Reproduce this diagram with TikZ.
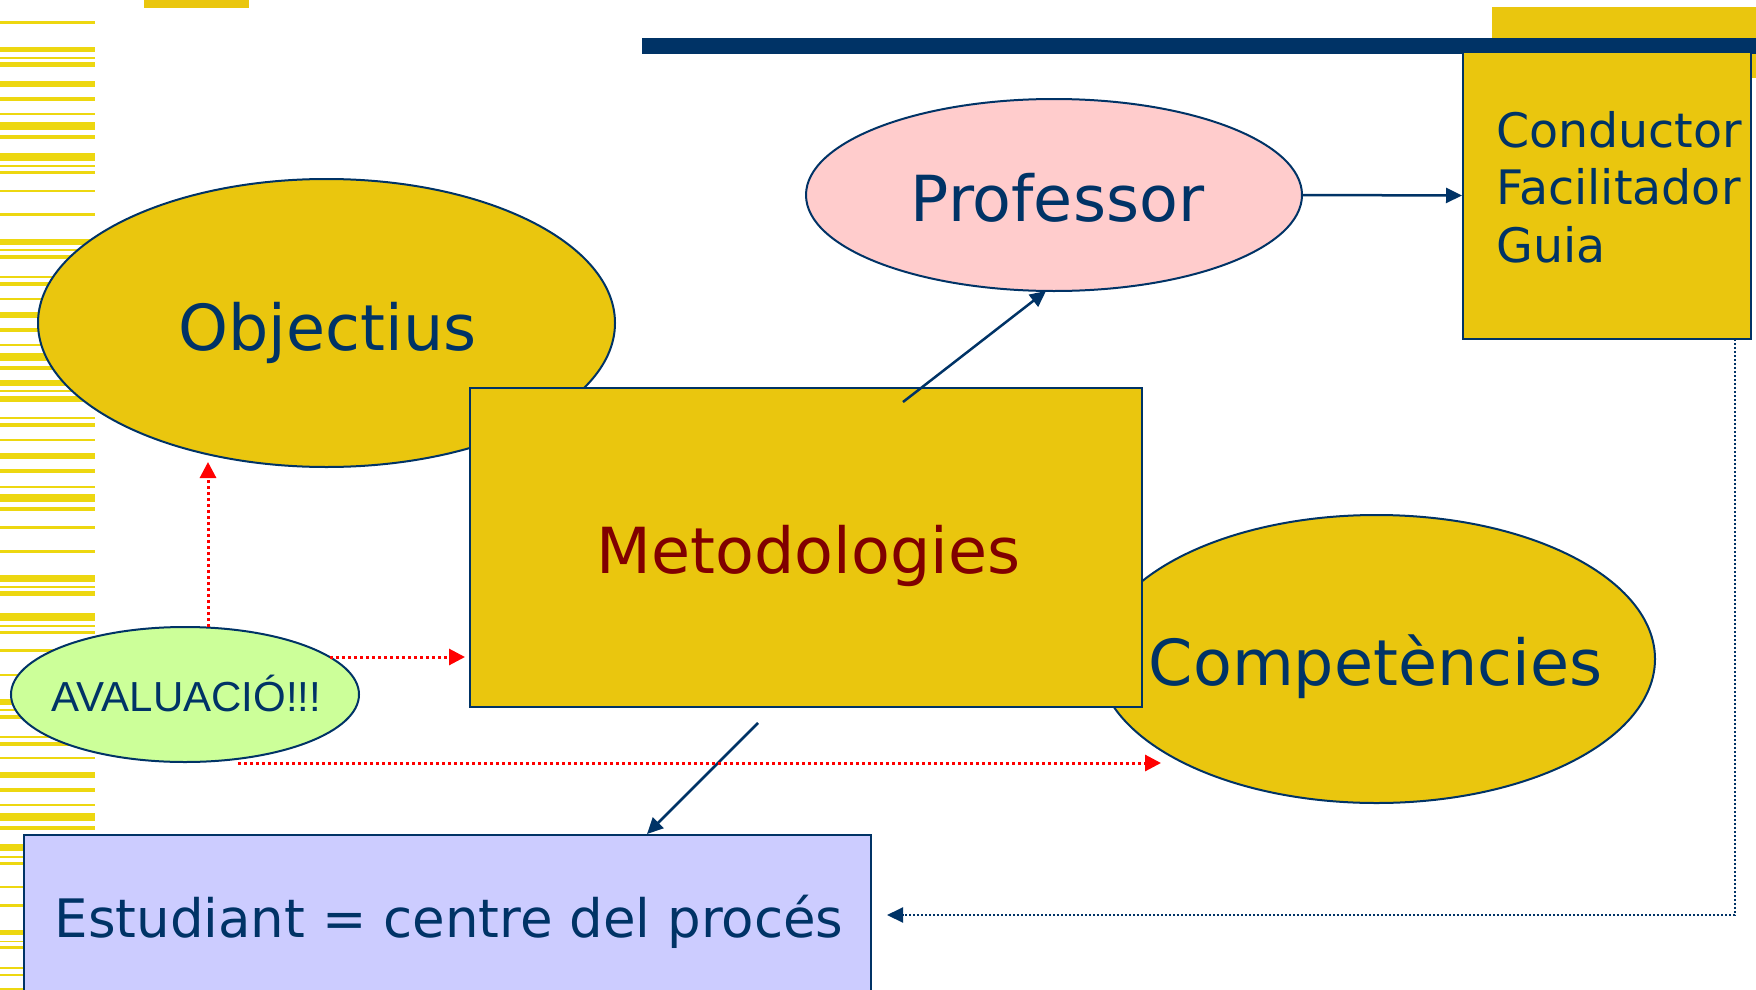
\documentclass[tikz,border=0pt]{standalone}
\usepackage{fontspec}
\setmainfont{DejaVu Sans}
\newfontfamily\arialfont{Liberation Sans}
\usetikzlibrary{shapes.geometric,arrows.meta}
\definecolor{navy}{RGB}{0,51,102}
\definecolor{gold}{RGB}{234,198,14}
\definecolor{stripe}{RGB}{237,215,16}
\definecolor{pinkfill}{RGB}{255,204,204}
\definecolor{greenfill}{RGB}{204,255,153}
\definecolor{lilac}{RGB}{204,204,255}
\definecolor{maroon}{RGB}{128,0,0}
\begin{document}
\begin{tikzpicture}[x=1pt,y=-1pt,
  shapeline/.style={draw=navy, line width=2pt},
  oval/.style={ellipse, shapeline, inner sep=0pt},
  box/.style={rectangle, shapeline, inner sep=0pt},
  big/.style={font=\fontsize{63.5}{70}\selectfont, text=navy, inner sep=0pt, anchor=base},
  navyarrow/.style={draw=navy, line width=2.5pt, -{Triangle[length=16pt,width=15pt]}},
  redarrow/.style={draw=red, line width=3pt, dash pattern=on 3pt off 3pt, -{Triangle[length=16pt,width=16pt]}},
  bluedot/.style={draw=navy, line width=2pt, dash pattern=on 2pt off 2pt, -{Triangle[length=16pt,width=15pt]}},
]
\clip (0,0) rectangle (1756,990);
\fill[white] (0,0) rectangle (1756,990);
% left stripes
\foreach \a/\b in {21/24,47/52,57/59,62/67,81/87,97/101,113/115,122/130,135/139,153/161,165/167,171/174,190/192,213/216,239/245,249/251,255/259,276/278,282/286,298/300,312/318,328/332,344/346,353/361,366/370,380/386,390/392,396/402,417/419,423/427,439/441,453/459,469/473,486/488,494/502,507/511,526/529,550/553,575/582,586/588,591/596,613/621,625/627,631/634,649/652,674/676,699/705,709/711,715/719,736/738,742/746,757/759,772/778,788/792,804/806,813/821,826/830,844/851,856/858,862/865,886/888,904/907,930/935,941/942,946/949,967/969,974/976,988/990}
  {\fill[stripe] (0,\a) rectangle (95,\b);}
% top decorations
\fill[gold] (144,0) rectangle (249,8);
\fill[gold] (1492,7) rectangle (1756,78);
\fill[navy] (642,38) rectangle (1756,54);
% shapes
\node[oval, fill=gold, minimum width=577pt, minimum height=288pt] (obj) at (326.5,323) {};
\node[oval, fill=gold, minimum width=557pt, minimum height=288pt] (comp) at (1376.5,659) {};
\node[box, fill=gold, minimum width=672pt, minimum height=319pt] (met) at (806,547.5) {};
\node[oval, fill=pinkfill, minimum width=496pt, minimum height=192pt] (prof) at (1054,195) {};
\node[box, fill=gold, minimum width=288pt, minimum height=287pt] (cond) at (1607,195.5) {};
\node[oval, fill=greenfill, minimum width=348pt, minimum height=135pt] (aval) at (185,694.5) {};
\node[box, fill=lilac, minimum width=847pt, minimum height=170pt] (est) at (447.5,920) {};
% texts
\node[big] (objt) at (327.5,350) {Objectius};
\node[big] (proft) at (1057.5,221) {Professor};
\node[big, text=maroon] (mett) at (808.5,573) {Metodologies};
\node[big] (compt) at (1375.5,685) {Competències};
\node[font=\fontsize{53}{60}\selectfont, text=navy, inner sep=0pt, anchor=base] (estt) at (449,937) {Estudiant = centre del procés};
\node[font=\arialfont\fontsize{42}{48}\selectfont, text=navy, inner sep=0pt, anchor=base] (avalt) at (186.5,711) {AVALUACIÓ!!!};
\node[font=\fontsize{47.5}{57.5}\selectfont, text=navy, inner sep=0pt, anchor=north west, align=left] (condt) at (1496,111) {Conductor\\Facilitador\\Guia};
% connector end points
\coordinate (metA) at (903,402);
\coordinate (profB) at (1046,291);
\coordinate (metB) at (758,723);
\coordinate (estA) at (647,834);
\coordinate (avalN) at (208,627);
\coordinate (objS) at (208,462);
\coordinate (avalE) at (330,657);
\coordinate (metW) at (465,657);
\coordinate (avalS) at (238,763);
\coordinate (compW) at (1161,763);
\coordinate (condS) at (1735,339);
\coordinate (estE) at (887,915);
% connectors
\draw[navyarrow] (metA) -- (profB);
\draw[navyarrow] (prof.east) -- (cond.west);
\draw[navyarrow] (metB) -- (estA);
\draw[redarrow] (avalN) -- (objS);
\draw[redarrow] (avalE) -- (metW);
\draw[redarrow] (avalS) -- (compW);
\draw[bluedot] (condS) |- (estE);
\end{tikzpicture}
\end{document}
